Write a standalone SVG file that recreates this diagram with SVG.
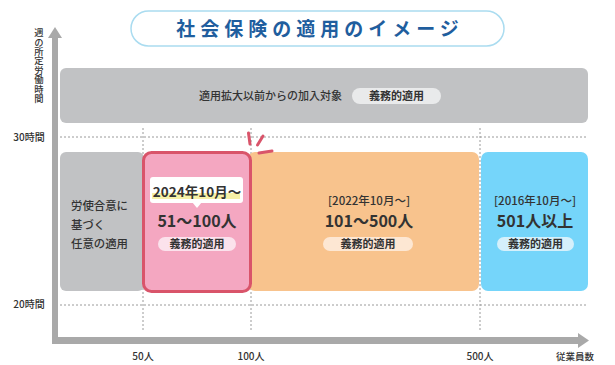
<svg xmlns="http://www.w3.org/2000/svg" width="615" height="365" viewBox="0 0 615 365">
<style>
text{font-family:"Noto Sans CJK JP","Noto Sans",sans-serif;fill:#333}
.b{font-weight:bold}
.m{font-weight:500}
.dash{stroke:#9a9a9a;stroke-width:1;stroke-dasharray:2 2;fill:none}
.axis{fill:#a9a9a9}
.lbl{font-size:10px;text-anchor:middle;font-weight:500}
.pill{font-size:11px;font-weight:bold;text-anchor:middle}
.spark{stroke:#d9546a;stroke-width:3;stroke-linecap:round}
</style>
<rect width="615" height="365" fill="#fff"/>

<g id="title">
<rect x="131" y="11" width="373" height="35" rx="17.5" fill="#fff" stroke="#aadcf0" stroke-width="1.5"/>
<text x="320" y="36" class="b" style="font-size:19px;letter-spacing:5px;fill:#1f5e9e" text-anchor="middle">社会保険の適用のイメージ</text>
</g>

<g id="grid">
<line class="dash" x1="60" y1="137" x2="588" y2="137"/>
<line class="dash" x1="60" y1="305" x2="588" y2="305"/>
<line class="dash" x1="143" y1="128" x2="143" y2="331"/>
<line class="dash" x1="251" y1="128" x2="251" y2="331"/>
<line class="dash" x1="480" y1="128" x2="480" y2="331"/>
</g>

<g id="axes">
<rect class="axis" x="52" y="37" width="6" height="307"/>
<polygon class="axis" points="48,38 55,27 62,38"/>
<rect class="axis" x="52" y="337" width="527" height="7"/>
<polygon class="axis" points="578,333 589,340.5 578,348"/>
<text x="39" y="28" class="m" style="font-size:9.3px;writing-mode:vertical-rl;letter-spacing:0.1px">週の所定労働時間</text>
<text x="29" y="141" class="lbl">30時間</text>
<text x="29" y="308" class="lbl">20時間</text>
<text x="143" y="360" class="lbl">50人</text>
<text x="251" y="360" class="lbl">100人</text>
<text x="480" y="360" class="lbl">500人</text>
<text x="575" y="360" class="lbl" style="font-size:9.5px">従業員数</text>
</g>

<g id="node-existing">
<rect x="60" y="68" width="528" height="55" rx="6" fill="#c1c2c4"/>
<text x="342" y="100" class="m" style="font-size:11px" text-anchor="end">適用拡大以前からの加入対象</text>
<rect x="352" y="88" width="89" height="16" rx="8" fill="#e9eaeb"/>
<text x="396.5" y="100" class="pill">義務的適用</text>
</g>

<g id="node-voluntary">
<rect x="60" y="152" width="84" height="139" rx="6" fill="#c1c2c4"/>
<text x="71" y="210" class="m" style="font-size:11.4px">労使合意に</text>
<text x="71" y="229" class="m" style="font-size:11.4px">基づく</text>
<text x="71" y="248" class="m" style="font-size:11.4px">任意の適用</text>
</g>

<g id="node-501">
<rect x="481" y="152" width="107" height="139" rx="7" fill="#75d5fa"/>
<text x="535" y="205" class="m" style="font-size:11.5px" text-anchor="middle">[2016年10月〜]</text>
<text x="535" y="227" class="b" style="font-size:16px" text-anchor="middle">501人以上</text>
<rect x="497" y="237" width="77" height="14" rx="7" fill="#d5f0fb"/>
<text x="535.5" y="248" class="pill">義務的適用</text>
</g>

<g id="node-101">
<rect x="248" y="152" width="231" height="139" rx="7" fill="#f8c38d"/>
<text x="369" y="205" class="m" style="font-size:11.5px" text-anchor="middle">[2022年10月〜]</text>
<text x="369" y="227" class="b" style="font-size:16px" text-anchor="middle">101〜500人</text>
<rect x="323" y="237" width="90" height="14" rx="7" fill="#fde7d3"/>
<text x="368" y="248" class="pill">義務的適用</text>
</g>

<g id="node-51">
<rect x="143.5" y="152.5" width="107" height="139" rx="8" fill="#f4a7c1" stroke="#d9546a" stroke-width="3"/>
<rect x="150" y="177" width="93" height="26" rx="3" fill="#fff"/>
<polygon points="192,202 197,208 202,202" fill="#fff"/>
<rect x="152" y="193" width="88" height="6" fill="#f6f0a6"/>
<text x="197" y="197" class="b" style="font-size:13.5px" text-anchor="middle">2024年10月〜</text>
<text x="197" y="227" class="b" style="font-size:16px" text-anchor="middle">51〜100人</text>
<rect x="158" y="237" width="78" height="14" rx="7" fill="#fbe2ec"/>
<text x="197" y="248" class="pill">義務的適用</text>
<line class="spark" x1="248.5" y1="133" x2="250" y2="144"/>
<line class="spark" x1="263" y1="136" x2="257.5" y2="145"/>
<line class="spark" x1="259" y1="153" x2="272" y2="151"/>
</g>
</svg>
